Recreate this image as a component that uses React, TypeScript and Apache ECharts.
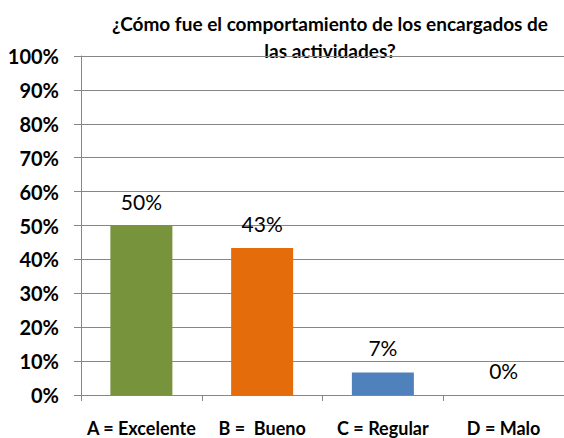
import React, { useEffect, useRef } from "react";
import * as echarts from "echarts";

const categories = ["A = Excelente", "B =  Bueno", "C = Regular", "D = Malo"];
const values = [50, 43.33, 6.67, 0];
const valueLabels = ["50%", "43%", "7%", "0%"];
const barColors = ["#77933C", "#E46C0A", "#4F81BD", "#7F7F7F"];
const titleText = "¿Cómo fue el comportamiento de los encargados de\nlas actividades?";

const FONT = "Lato, 'Open Sans', sans-serif";

export default function App() {
  const ref = useRef<HTMLDivElement>(null);
  useEffect(() => {
    if (!ref.current) return;
    const chart = echarts.init(ref.current, null, { renderer: "svg" });
    chart.setOption({
      animation: false,
      backgroundColor: "#ffffff",
      graphic: [
        {
          type: "text",
          x: 330,
          y: 37,
          style: {
            text: titleText,
            textAlign: "center",
            textVerticalAlign: "middle",
            fontFamily: FONT,
            fontWeight: "bold",
            fontSize: 19,
            lineHeight: 27,
            fill: "#000000",
          },
        },
      ],
      grid: { left: 81, top: 56, width: 486, bottom: 43, containLabel: false },
      xAxis: {
        type: "category",
        data: categories,
        axisLine: { show: true, lineStyle: { color: "#868686", width: 1 } },
        axisTick: { show: true, length: 6, lineStyle: { color: "#868686" } },
        axisLabel: {
          interval: 0,
          margin: 24,
          fontFamily: FONT,
          fontWeight: "bold",
          fontSize: 18,
          color: "#000000",
        },
      },
      yAxis: {
        type: "value",
        min: 0,
        max: 100,
        interval: 10,
        axisLine: { show: true, lineStyle: { color: "#868686", width: 1 } },
        axisTick: { show: true, length: 7, lineStyle: { color: "#868686" } },
        splitLine: { show: true, lineStyle: { color: "#868686", width: 1 } },
        axisLabel: {
          margin: 22,
          formatter: "{value}%",
          fontFamily: FONT,
          fontWeight: "bold",
          fontSize: 20,
          color: "#000000",
        },
      },
      series: [
        {
          type: "bar",
          barWidth: 62,
          data: values.map((v, i) => ({ value: v, itemStyle: { color: barColors[i] } })),
          label: {
            show: true,
            position: "top",
            distance: 14,
            formatter: (p: any) => valueLabels[p.dataIndex],
            fontFamily: FONT,
            fontSize: 21,
            color: "#000000",
          },
        },
      ],
    });
    return () => chart.dispose();
  }, []);
  return <div ref={ref} style={{ width: 564, height: 438, position: "absolute", left: 0, top: 0 }} />;
}
